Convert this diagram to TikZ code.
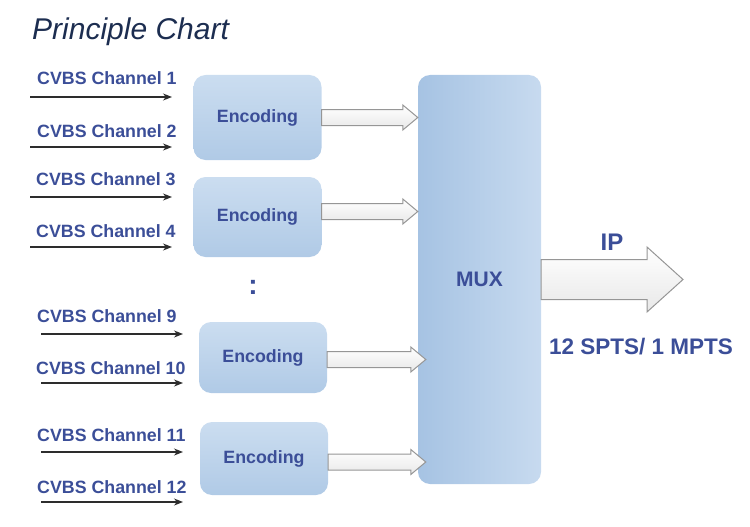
\documentclass[tikz,border=0pt]{standalone}
\usepackage{fontspec}
\setmainfont{Liberation Sans}
\usepackage{tikz}
\usetikzlibrary{arrows.meta,positioning,calc}
\definecolor{pcText}   {RGB}{ 59, 78,152}
\definecolor{pcTitle}  {RGB}{ 28, 45, 80}
\definecolor{pcBoxT}   {RGB}{203,221,240}
\definecolor{pcBoxB}   {RGB}{176,202,230}
\definecolor{pcMuxL}   {RGB}{166,195,227}
\definecolor{pcMuxR}   {RGB}{199,218,239}
\definecolor{pcLine}   {RGB}{ 45, 45, 45}
\definecolor{pcGrey}   {RGB}{150,150,150}
% hollow block arrow: from, to, shaft half width, head half width, head length
\newcommand{\fatarrow}[5]{%
  \draw[fat] let \p1=#1, \p2=#2 in
    (\x1,\y1+#3) -- (\x2-#5,\y1+#3) -- (\x2-#5,\y1+#4) -- (\x2,\y1)
    -- (\x2-#5,\y1-#4) -- (\x2-#5,\y1-#3) -- (\x1,\y1-#3) -- cycle;}

\begin{document}
\begin{tikzpicture}[
  x=1pt,y=-1pt,
  >={Stealth[length=9pt,width=7pt]},
  every node/.style={font=\bfseries\fontsize{17.8}{20}\selectfont,text=pcText},
  chan/.style={anchor=west,inner sep=0pt},
  enc/.style ={rounded corners=12pt,top color=pcBoxT,bottom color=pcBoxB,
               minimum width=128pt,align=center},
  mux/.style ={rounded corners=12pt,left color=pcMuxL,right color=pcMuxR,
               minimum width=123pt,minimum height=409pt,
               font=\bfseries\fontsize{21}{24}\selectfont},
  input/.style={->,line width=1.4pt,pcLine},
  fat/.style ={draw=pcGrey,line width=1pt,top color=white,bottom color=gray!18}
]
\useasboundingbox (0,0) rectangle (750,527);

% title
\node[anchor=base west,inner sep=0pt,text=pcTitle,
      font=\itshape\fontsize{30}{34}\selectfont] (title) at (32,40) {Principle Chart};

% encoders and multiplexer
\node[enc,minimum height=85pt] (enc1) at (257.5,117.5) {Encoding};
\node[enc,minimum height=80pt] (enc2) at (257.5,217)   {Encoding};
\node[enc,minimum height=71pt] (enc3) at (263,357.5)   {Encoding};
\node[enc,minimum height=73pt] (enc4) at (264,458.5)   {Encoding};
\node[mux] (mux) at (479.5,279.5) {MUX};
\node[font=\bfseries\fontsize{28}{30}\selectfont] (dots) at (253,287) {:};

% channel labels
\node[chan] (ch1)  at (37,78)  {CVBS Channel 1};
\node[chan] (ch2)  at (37,131) {CVBS Channel 2};
\node[chan] (ch3)  at (36,179) {CVBS Channel 3};
\node[chan] (ch4)  at (36,231) {CVBS Channel 4};
\node[chan] (ch9)  at (37,316) {CVBS Channel 9};
\node[chan] (ch10) at (36,368) {CVBS Channel 10};
\node[chan] (ch11) at (37,435) {CVBS Channel 11};
\node[chan] (ch12) at (37,487) {CVBS Channel 12};

% input arrows
\coordinate (in1)  at (30,97);   \coordinate (in1e)  at (172,97);
\coordinate (in2)  at (30,147);  \coordinate (in2e)  at (172,147);
\coordinate (in3)  at (30,197);  \coordinate (in3e)  at (172,197);
\coordinate (in4)  at (30,247);  \coordinate (in4e)  at (172,247);
\coordinate (in9)  at (41,334);  \coordinate (in9e)  at (183,334);
\coordinate (in10) at (41,383);  \coordinate (in10e) at (183,383);
\coordinate (in11) at (41,452);  \coordinate (in11e) at (183,452);
\coordinate (in12) at (41,502);  \coordinate (in12e) at (183,502);
\draw[input] (in1)  -- (in1e);
\draw[input] (in2)  -- (in2e);
\draw[input] (in3)  -- (in3e);
\draw[input] (in4)  -- (in4e);
\draw[input] (in9)  -- (in9e);
\draw[input] (in10) -- (in10e);
\draw[input] (in11) -- (in11e);
\draw[input] (in12) -- (in12e);

% encoder to mux
\coordinate (a1) at ($(enc1.east)+(0,0)$);
\coordinate (a2) at ($(enc2.east)+(0,-5.5)$);
\coordinate (a3) at ($(enc3.east)+(0,2)$);
\coordinate (a4) at ($(enc4.east)+(0,3.5)$);
\fatarrow{(a1)}{(mux.west |- a1)}{8pt}{12.5pt}{15pt}
\fatarrow{(a2)}{(mux.west |- a2)}{8pt}{12.5pt}{15pt}
\fatarrow{(a3)}{($(mux.west |- a3)+(8,0)$)}{8pt}{12.5pt}{15pt}
\fatarrow{(a4)}{($(mux.west |- a4)+(8,0)$)}{8pt}{12.5pt}{15pt}

% output
\coordinate (ipend) at (683,279.5);
\fatarrow{(mux.east)}{(ipend)}{20pt}{32.5pt}{36pt}
\node[font=\bfseries\fontsize{24}{28}\selectfont] (ip) at (612,242) {IP};
\node[font=\bfseries\fontsize{22.5}{26}\selectfont] (spts) at (641,347) {12 SPTS/ 1 MPTS};
\end{tikzpicture}
\end{document}
